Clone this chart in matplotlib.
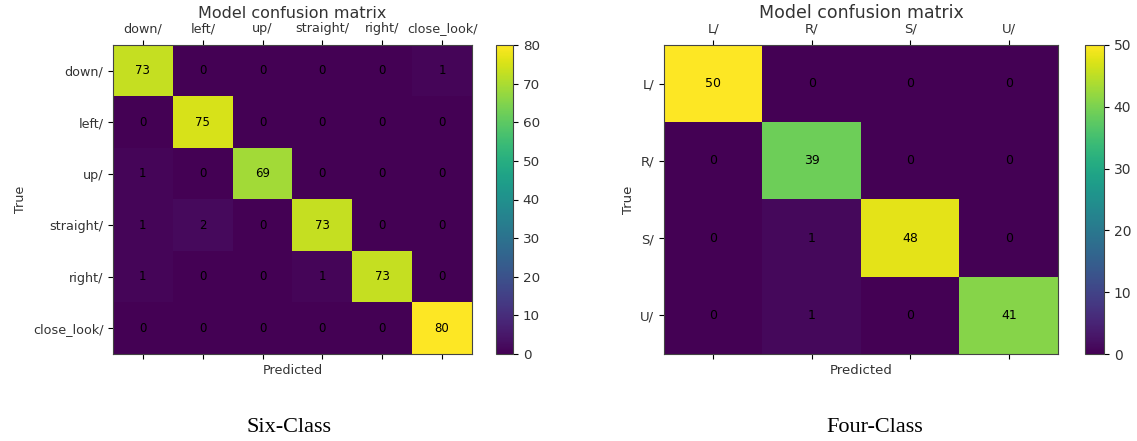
import numpy as np
import matplotlib
matplotlib.use("Agg")
import matplotlib.pyplot as plt

six_labels = ["down/", "left/", "up/", "straight/", "right/", "close_look/"]
six_cm = [
    [73, 0, 0, 0, 0, 1],
    [0, 75, 0, 0, 0, 0],
    [1, 0, 69, 0, 0, 0],
    [1, 2, 0, 73, 0, 0],
    [1, 0, 0, 1, 73, 0],
    [0, 0, 0, 0, 0, 80],
]

four_labels = ["L/", "R/", "S/", "U/"]
four_cm = [
    [50, 0, 0, 0],
    [0, 39, 0, 0],
    [0, 1, 48, 0],
    [0, 1, 0, 41],
]

W, H = 1137, 441
fig = plt.figure(figsize=(W / 100, H / 100), dpi=100)


def px(x0, y0, x1, y1):
    # pixel box (top-left origin) -> figure fraction rect
    return [x0 / W, (H - y1) / H, (x1 - x0) / W, (y1 - y0) / H]


def draw_cm(ax, cax, cm, labels, fs_tick, fs_title, fs_num, pad):
    cm = np.array(cm)
    im = ax.imshow(cm, cmap="viridis", aspect="auto", vmin=0, vmax=cm.max())
    n = len(labels)
    ax.set_xticks(range(n))
    ax.set_yticks(range(n))
    ax.set_xticklabels(labels, fontsize=fs_tick, color="#333333")
    ax.set_yticklabels(labels, fontsize=fs_tick, color="#333333")
    ax.tick_params(axis="x", top=True, bottom=True, labeltop=True, labelbottom=False)
    for i in range(n):
        for j in range(n):
            ax.text(j, i, str(cm[i, j]), ha="center", va="center",
                    fontsize=fs_num, color="black")
    ax.set_title("Model confusion matrix", fontsize=fs_title, color="#333333", pad=pad)
    ax.set_xlabel("Predicted", fontsize=fs_tick, color="#333333")
    ax.set_ylabel("True", fontsize=fs_tick, color="#333333")
    for s in ax.spines.values():
        s.set_color("#444444")
    cb = fig.colorbar(im, cax=cax)
    cb.ax.tick_params(labelsize=fs_tick + 0.5, labelcolor="#333333")
    cb.outline.set_edgecolor("#444444")
    return cb


ax1 = fig.add_axes(px(113, 45, 472, 354))
cax1 = fig.add_axes(px(496, 45, 513, 354))
draw_cm(ax1, cax1, six_cm, six_labels, 9.2, 11.5, 8.5, 3)
cax1.set_yticks(range(0, 81, 10))

ax2 = fig.add_axes(px(664, 45, 1058, 354))
cax2 = fig.add_axes(px(1085, 45, 1104, 354))
draw_cm(ax2, cax2, four_cm, four_labels, 9.5, 12.5, 9, 2)
cax2.set_yticks(range(0, 51, 10))

fig.text(289 / W, 1 - 428 / H, "Six-Class", ha="center", va="center",
         fontsize=16, family="Liberation Serif")
fig.text(875 / W, 1 - 428 / H, "Four-Class", ha="center", va="center",
         fontsize=16, family="Liberation Serif")

fig.savefig("out.png", dpi=100)
